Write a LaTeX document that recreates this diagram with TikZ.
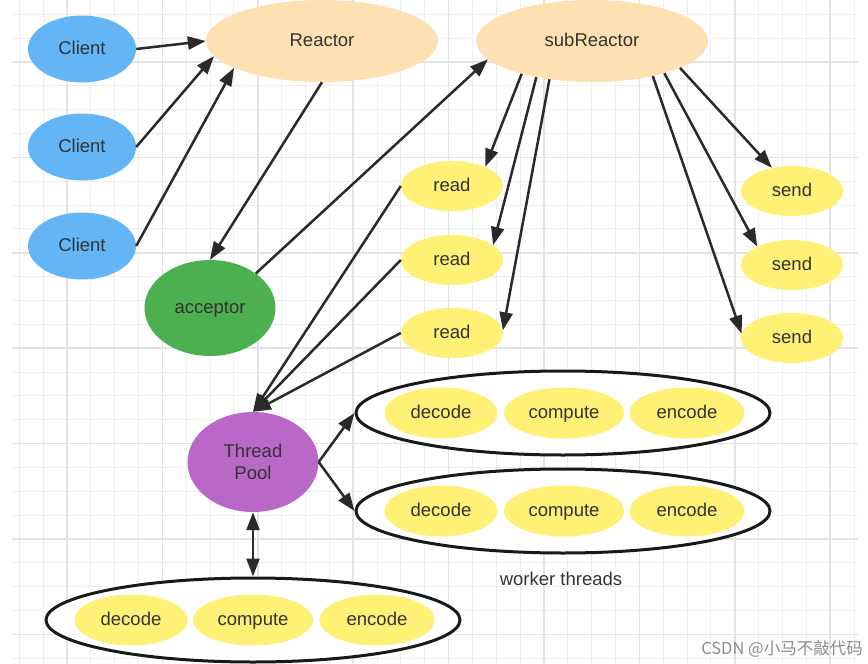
\documentclass[tikz,border=0pt]{standalone}
\usepackage{fontspec}
\setmainfont{Liberation Sans}
\newfontfamily\cjkfont{Noto Sans CJK SC}
\usetikzlibrary{shapes.geometric,arrows.meta}
\definecolor{clientblue}{HTML}{64B5F6}
\definecolor{reactorpeach}{HTML}{FFE0B2}
\definecolor{acceptgreen}{HTML}{4CAF50}
\definecolor{poolpurple}{HTML}{BA68C8}
\definecolor{taskyellow}{HTML}{FFF176}
\definecolor{linkgrey}{HTML}{2A2A2A}
\definecolor{textgrey}{HTML}{333333}
\definecolor{gridminor}{HTML}{EEEEEE}
\definecolor{gridmajor}{HTML}{E3E3E3}
\begin{document}
\begin{tikzpicture}[x=1pt, y=-1pt,
    >={Triangle[length=18pt,width=13pt]},
    every node/.style={font=\fontsize{18.5}{22}\selectfont, text=textgrey},
    blob/.style={ellipse, inner sep=0pt, minimum width=#1},
    oneline/.style={text height=13.5pt, text depth=3pt},
    client/.style={blob=108pt, oneline, minimum height=67pt, fill=clientblue},
    reactor/.style={blob=232pt, oneline, minimum height=82pt, fill=reactorpeach},
    task/.style={blob=102pt, oneline, minimum height=50pt, fill=taskyellow},
    stage/.style={blob=#1, oneline, minimum height=51pt, fill=taskyellow},
    workers/.style={blob=414pt, minimum height=84pt, draw=black!90, line width=3pt, fill=white},
    link/.style={draw=linkgrey, line width=2.5pt},
    gridline/.style={draw=gridminor, line width=1pt},
    gridbold/.style={draw=gridmajor, line width=1.6pt}
  ]
    \useasboundingbox (0,0) rectangle (868,664);
    \fill[white] (0,0) rectangle (868,664);
    \foreach \k in {0,...,35} \draw[gridline] ({19.3+23.85*\k},0) -- ++(0,664);
    \foreach \k in {0,...,27} \draw[gridline] (12,{14.3+23.85*\k}) -- (858,{14.3+23.85*\k});
    \foreach \k in {0,...,8} \draw[gridbold] ({67+95.4*\k},0) -- ++(0,664);
    \foreach \k in {0,...,6} \draw[gridbold] (12,{62+95.4*\k}) -- (858,{62+95.4*\k});

    \node[client] (client1) at (82,49) {Client};
    \node[client] (client2) at (82,147) {Client};
    \node[client] (client3) at (82,246) {Client};
    \node[reactor] (reactor) at (322,41) {Reactor};
    \node[reactor] (subreactor) at (592,41) {subReactor};
    \node[blob=131pt, oneline, minimum height=96pt, fill=acceptgreen] (acceptor) at (210,308) {acceptor};
    \node[task] (read1) at (452,186) {read};
    \node[task] (read2) at (452,260) {read};
    \node[task] (read3) at (452,333) {read};
    \node[task] (send1) at (792,191) {send};
    \node[task] (send2) at (792,265) {send};
    \node[task] (send3) at (792,338) {send};
    \node[blob=131pt, minimum height=100pt, fill=poolpurple, align=center] (pool) at (253,462) {Thread\\Pool};

    \node[workers] (workA) at (563,413) {};
    \node[stage=113pt] (decodeA) at (441,413) {decode};
    \node[stage=120pt] (computeA) at (564,413) {compute};
    \node[stage=115pt] (encodeA) at (687,413) {encode};
    \node[workers] (workB) at (563,511) {};
    \node[stage=113pt] (decodeB) at (441,511) {decode};
    \node[stage=120pt] (computeB) at (564,511) {compute};
    \node[stage=115pt] (encodeB) at (687,511) {encode};
    \node[workers] (workC) at (253,620) {};
    \node[stage=113pt] (decodeC) at (131,620) {decode};
    \node[stage=120pt] (computeC) at (253,620) {compute};
    \node[stage=115pt] (encodeC) at (377,620) {encode};
    \node (workerlabel) at (561,579) {worker threads};
    \node[font=\cjkfont\fontsize{16.5}{18}\selectfont, text=black!45] (mark) at (782,649) {CSDN @小马不敲代码};

    \draw[link, ->] (client1.east) -- (reactor.180);
    \draw[link, ->] (client2.east) -- (reactor.188);
    \draw[link, ->] (client3.east) -- (reactor.197);
    \draw[link, ->] (reactor.south) -- (acceptor.north);
    \draw[link, ->] (acceptor.37) -- (subreactor.190);
    \draw[link, ->] (subreactor.205) -- (read1.30);
    \draw[link, ->] (subreactor.213) -- (read2.20);
    \draw[link, ->] (subreactor.222) -- (read3.3);
    \draw[link, ->] (subreactor.343) -- (send1.131);
    \draw[link, ->] (subreactor.336) -- (send2.152);
    \draw[link, ->] (subreactor.330) -- (send3.175);
    \draw[link, ->] (read1.west) -- (pool.north);
    \draw[link, ->] (read2.west) -- (pool.north);
    \draw[link, ->] (read3.west) -- (pool.north);
    \draw[link, ->] (pool.east) -- (workA.west);
    \draw[link, ->] (pool.east) -- (workB.west);
    \draw[link, <->] (pool.south) -- (workC.north);
\end{tikzpicture}
\end{document}
